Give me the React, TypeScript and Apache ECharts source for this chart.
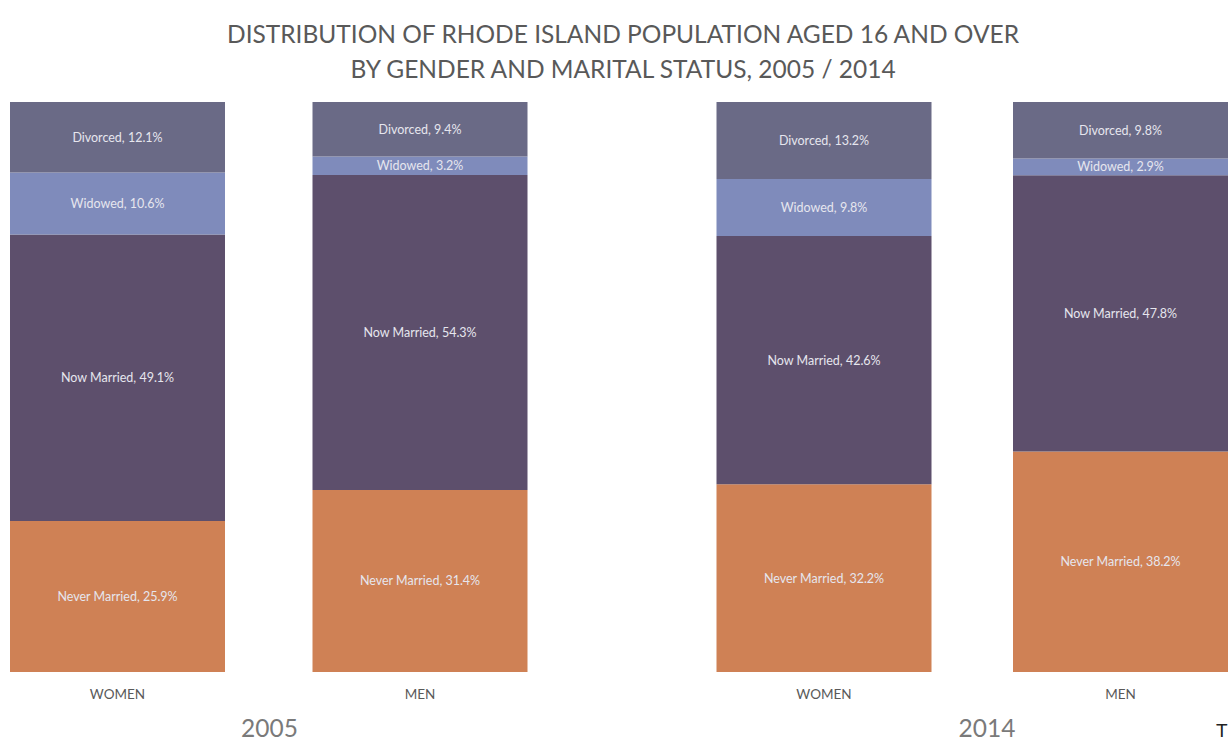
import React, { useEffect, useRef } from "react";
import * as echarts from "echarts";

const categories = ["WOMEN", "MEN"];
const years = ["2005", "2014"];
const segments = ["Never Married", "Now Married", "Widowed", "Divorced"];
const segmentColors = ["#cf8155", "#5d4f6c", "#7f8bbb", "#6a6a86"];

// values per year: [WOMEN, MEN]
const neverMarried2005 = [25.9, 31.4];
const nowMarried2005 = [49.1, 54.3];
const widowed2005 = [10.6, 3.2];
const divorced2005 = [12.1, 9.4];

const neverMarried2014 = [32.2, 38.2];
const nowMarried2014 = [42.6, 47.8];
const widowed2014 = [9.8, 2.9];
const divorced2014 = [13.2, 9.8];

const yearData = [
  [neverMarried2005, nowMarried2005, widowed2005, divorced2005],
  [neverMarried2014, nowMarried2014, widowed2014, divorced2014],
];

const FONT = "Lato, 'Open Sans', sans-serif";
const SHIFT = 40; // chart canvas is offset left so that grids fit inside it

export default function App() {
  const ref = useRef<HTMLDivElement>(null);
  useEffect(() => {
    document.body.style.margin = "0";
    document.body.style.overflow = "hidden";
    const chart = echarts.init(ref.current!, null, { renderer: "svg" });
    const grids = [
      { left: -33.75 + SHIFT, width: 605, top: 102, bottom: 68 },
      { left: 675.75 + SHIFT, width: 593, top: 102, bottom: 68 },
    ];
    const series: any[] = [];
    yearData.forEach((segs, gi) => {
      const totals = categories.map((_, ci) => segs.reduce((s, arr) => s + arr[ci], 0));
      segs.forEach((arr, si) => {
        series.push({
          type: "bar",
          name: segments[si],
          stack: "s" + gi,
          xAxisIndex: gi,
          yAxisIndex: gi,
          barWidth: 215,
          itemStyle: { color: segmentColors[si] },
          label: {
            show: true,
            position: "inside",
            color: "#e6e6ee",
            fontSize: 12.5,
            fontFamily: FONT,
            formatter: (p: any) => `${segments[si]}, ${p.data.raw.toFixed(1)}%`,
          },
          data: arr.map((v, ci) => ({ value: (v / totals[ci]) * 100, raw: v })),
        });
      });
    });
    chart.setOption({
      animation: false,
      title: {
        text: "DISTRIBUTION OF RHODE ISLAND POPULATION AGED 16 AND OVER\nBY GENDER AND MARITAL STATUS, 2005 / 2014",
        left: 618 + SHIFT,
        top: 11,
        textAlign: "center",
        textStyle: {
          fontSize: 24.5,
          lineHeight: 35,
          color: "#595959",
          fontWeight: "normal",
          fontFamily: FONT,
        },
      },
      grid: grids,
      xAxis: grids.map((_, gi) => ({
        type: "category",
        gridIndex: gi,
        data: categories,
        axisLine: { show: false },
        axisTick: { show: false },
        axisLabel: { color: "#595959", fontSize: 13.5, fontFamily: FONT, margin: 15 },
      })),
      yAxis: grids.map((_, gi) => ({
        type: "value",
        gridIndex: gi,
        min: 0,
        max: 100,
        show: false,
        splitLine: { show: false },
      })),
      series,
      graphic: [
        {
          type: "text",
          x: 269.5 + SHIFT,
          y: 727,
          style: { text: years[0], fontSize: 24.5, fill: "#7a7a7a", fontFamily: FONT, align: "center", verticalAlign: "middle" },
        },
        {
          type: "text",
          x: 987 + SHIFT,
          y: 727,
          style: { text: years[1], fontSize: 24.5, fill: "#7a7a7a", fontFamily: FONT, align: "center", verticalAlign: "middle" },
        },
        {
          type: "text",
          x: 1216 + SHIFT,
          y: 730,
          style: { text: "T", fontSize: 19, fill: "#222", fontFamily: "'Liberation Sans', sans-serif", verticalAlign: "middle" },
        },
      ],
    });
    return () => chart.dispose();
  }, []);
  return (
    <div style={{ width: 1231, height: 740, overflow: "hidden", position: "relative" }}>
      <div ref={ref} style={{ position: "absolute", left: -SHIFT, top: 0, width: 1231 + 2 * SHIFT, height: 740 }} />
    </div>
  );
}
